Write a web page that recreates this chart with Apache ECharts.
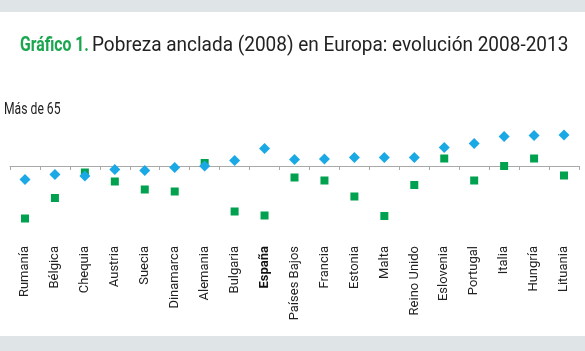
<!DOCTYPE html>
<html>
<head>
<meta charset="utf-8">
<script src="https://cdn.jsdelivr.net/npm/echarts@6/dist/echarts.min.js"></script>
<style>
html,body{margin:0;padding:0;background:#fff;}
#c{width:585px;height:351px;}
</style>
</head>
<body>
<div id="c"></div>
<script>
const categories = ["Rumanía","Bélgica","Chequia","Austria","Suecia","Dinamarca","Alemania","Bulgaria","España","Países Bajos","Francia","Estonia","Malta","Reino Unido","Eslovenia","Portugal","Italia","Hungría","Lituania"];
const seriesBlue = [-2.7,-1.7,-2.0,-0.7,-0.9,-0.3,0.0,1.1,3.5,1.3,1.4,1.7,1.7,1.7,3.7,4.5,5.9,6.1,6.2];
const seriesGreen = [-10.5,-6.4,-1.3,-3.1,-4.7,-5.1,0.6,-9.1,-9.9,-2.3,-2.9,-6.1,-10.0,-3.8,1.5,-2.9,0.0,1.5,-1.9];
const yMin = -14, yMax = 14;

const FONT = "Roboto,'Liberation Sans',sans-serif";
const chart = echarts.init(document.getElementById('c'), null, {renderer:'canvas'});
chart.setOption({
  backgroundColor:'#ffffff',
  animation:false,
  graphic:[
    {type:'rect', left:0, top:0, shape:{width:585,height:12}, style:{fill:'#dfe4e6'}},
    {type:'rect', left:0, top:336, shape:{width:585,height:15}, style:{fill:'#dfe4e6'}},
    {type:'text', x:4, y:102, scaleX:0.76, style:{text:'Más de 65', font:"16px "+FONT, fill:'#222'}},
    {type:'text', x:20, y:35, scaleX:0.75, style:{text:'Gráfico 1.', font:"bold 21px "+FONT, fill:'#1aa64f'}},
    {type:'text', x:92, y:35, scaleX:0.905, style:{text:'Pobreza anclada (2008) en Europa: evolución 2008-2013', font:"21px "+FONT, fill:'#222'}}
  ],
  grid:{left:10, right:6, top:96, bottom:115, containLabel:false, outerBoundsMode:'none'},
  xAxis:{type:'category', data:categories, position:'bottom',
     axisLine:{show:true, onZero:true, lineStyle:{color:'#a9a9a9', width:1}},
     axisTick:{show:true, length:4, lineStyle:{color:'#a9a9a9'}},
     axisLabel:{rotate:90, margin:10, interval:0, fontFamily:FONT, fontSize:13, color:'#222',
       formatter:function(v){return v==='España' ? '{b|'+v+'}' : v;},
       rich:{b:{fontFamily:FONT, fontSize:13, fontWeight:'bold', color:'#111'}}}},
  yAxis:{type:'value', min:yMin, max:yMax, axisLine:{show:false}, axisTick:{show:false}, axisLabel:{show:false}, splitLine:{show:false}},
  series:[
    {type:'scatter', data:seriesGreen, symbol:'rect', symbolSize:8, itemStyle:{color:'#00a14f', opacity:1}},
    {type:'scatter', data:seriesBlue, symbol:'diamond', symbolSize:11, itemStyle:{color:'#1ba9e6', opacity:1}}
  ]
});
</script>
</body>
</html>
